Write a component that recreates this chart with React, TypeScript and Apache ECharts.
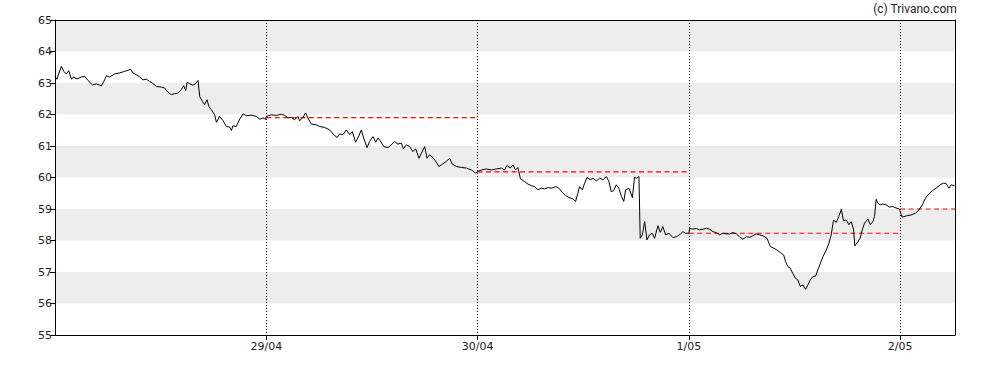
import React, { useEffect, useRef } from "react";
import * as echarts from "echarts";

// x = trading days since the start of 28/04 session, y = price
const day1: [number, number][] = [
  [0.000,63.21],[0.009,63.12],[0.030,63.53],[0.041,63.37],[0.054,63.29],[0.065,63.39],[0.078,63.12],[0.088,63.19],[0.104,63.13],[0.125,63.19],[0.141,63.21],[0.156,63.08],[0.177,62.94],[0.196,62.97],[0.220,62.91],[0.235,63.10],[0.243,63.23],[0.259,63.19],[0.283,63.29],[0.306,63.32],[0.330,63.37],[0.345,63.40],[0.357,63.44],[0.369,63.32],[0.385,63.26],[0.401,63.19],[0.416,63.10],[0.433,63.12],[0.448,63.05],[0.464,62.98],[0.480,62.89],[0.504,62.87],[0.519,62.84],[0.535,62.70],[0.551,62.63],[0.566,62.66],[0.582,62.68],[0.598,62.79],[0.609,62.91],[0.619,62.76],[0.625,63.02],[0.637,62.98],[0.653,62.93],[0.666,62.98],[0.677,63.08],[0.685,62.57],[0.698,62.41],[0.708,62.31],[0.719,62.47],[0.729,62.25],[0.740,62.15],[0.756,61.99],[0.764,61.75],[0.779,61.94],[0.795,61.81],[0.811,61.62],[0.827,61.60],[0.835,61.49],[0.842,61.64],[0.858,61.62],[0.874,61.85],[0.890,62.02],[0.906,61.96],[0.929,61.98],[0.953,61.94],[0.969,61.85],[0.984,61.89],[0.997,61.85]
];
const day2: [number, number][] = [
  [1.000,61.94],[1.024,61.99],[1.048,61.97],[1.071,62.01],[1.087,61.97],[1.103,61.89],[1.119,61.91],[1.134,61.83],[1.150,61.94],[1.158,61.80],[1.174,61.91],[1.186,62.05],[1.197,61.89],[1.213,61.70],[1.237,61.67],[1.253,61.62],[1.276,61.59],[1.300,61.51],[1.316,61.38],[1.335,61.27],[1.347,61.38],[1.363,61.36],[1.379,61.51],[1.395,61.36],[1.407,61.46],[1.423,61.12],[1.439,61.33],[1.450,61.51],[1.461,61.25],[1.477,60.95],[1.489,61.14],[1.505,61.30],[1.518,61.12],[1.529,61.25],[1.540,61.16],[1.556,60.98],[1.576,60.95],[1.592,61.04],[1.608,61.14],[1.623,61.06],[1.639,61.09],[1.650,60.91],[1.663,61.04],[1.679,60.98],[1.694,60.82],[1.707,60.91],[1.723,60.61],[1.734,60.77],[1.750,60.98],[1.761,60.61],[1.773,60.72],[1.789,60.63],[1.805,60.49],[1.817,60.35],[1.833,60.42],[1.852,60.51],[1.868,60.61],[1.881,60.42],[1.900,60.35],[1.923,60.32],[1.947,60.30],[1.971,60.24],[1.991,60.14]
];
const day3: [number, number][] = [
  [2.002,60.19],[2.018,60.24],[2.042,60.27],[2.065,60.24],[2.089,60.27],[2.113,60.30],[2.128,60.24],[2.139,60.38],[2.155,60.30],[2.168,60.40],[2.180,60.24],[2.191,60.32],[2.203,59.96],[2.223,59.87],[2.239,59.79],[2.255,59.74],[2.270,59.71],[2.286,59.61],[2.302,59.66],[2.317,59.64],[2.333,59.68],[2.349,59.66],[2.370,59.71],[2.385,59.66],[2.401,59.53],[2.417,59.43],[2.433,59.36],[2.451,59.32],[2.464,59.24],[2.475,59.50],[2.483,59.71],[2.496,59.61],[2.507,59.82],[2.518,60.00],[2.534,59.93],[2.546,59.98],[2.562,59.89],[2.578,59.98],[2.593,59.93],[2.610,60.03],[2.622,59.87],[2.633,59.55],[2.644,59.58],[2.657,59.77],[2.669,59.66],[2.681,59.40],[2.692,59.24],[2.701,59.61],[2.717,59.66],[2.733,59.36],[2.743,60.00],[2.754,59.98],[2.764,60.03],[2.770,58.07],[2.780,58.18],[2.791,58.60],[2.802,58.02],[2.814,58.18],[2.827,58.23],[2.838,58.07],[2.854,58.47],[2.865,58.26],[2.877,58.44],[2.890,58.18],[2.906,58.23],[2.925,58.09],[2.941,58.12],[2.960,58.20],[2.972,58.28],[2.985,58.23]
];
const day4: [number, number][] = [
  [3.000,58.23],[3.004,58.39],[3.019,58.36],[3.035,58.38],[3.051,58.34],[3.067,58.36],[3.083,58.39],[3.098,58.36],[3.114,58.28],[3.130,58.25],[3.146,58.18],[3.161,58.23],[3.177,58.21],[3.193,58.21],[3.209,58.25],[3.225,58.21],[3.240,58.12],[3.256,58.04],[3.272,58.12],[3.288,58.10],[3.303,58.15],[3.319,58.21],[3.335,58.18],[3.351,58.15],[3.370,58.07],[3.386,57.81],[3.401,57.76],[3.417,57.70],[3.433,57.62],[3.449,57.54],[3.458,57.33],[3.469,57.17],[3.480,57.12],[3.492,56.96],[3.505,56.80],[3.516,56.75],[3.528,56.54],[3.540,56.59],[3.553,56.45],[3.564,56.59],[3.575,56.75],[3.587,56.85],[3.600,56.87],[3.611,57.07],[3.635,57.49],[3.651,57.70],[3.663,57.91],[3.674,58.18],[3.685,58.65],[3.698,58.57],[3.710,58.76],[3.722,58.99],[3.732,58.63],[3.745,58.65],[3.758,58.50],[3.769,58.60],[3.780,58.34],[3.786,57.83],[3.800,57.96],[3.811,58.07],[3.821,58.34],[3.832,58.55],[3.848,58.68],[3.859,58.50],[3.871,58.60],[3.879,58.76],[3.887,59.31],[3.895,59.18],[3.906,59.13],[3.918,59.16],[3.934,59.13],[3.950,59.06],[3.966,59.08],[3.982,59.03],[3.997,59.00]
];
const day5: [number, number][] = [
  [4.010,58.74],[4.029,58.78],[4.052,58.81],[4.073,58.87],[4.089,58.97],[4.105,59.13],[4.120,59.34],[4.136,59.48],[4.155,59.59],[4.170,59.66],[4.190,59.77],[4.206,59.82],[4.219,59.80],[4.231,59.66],[4.242,59.77],[4.258,59.73]
];

const dayLabels = ["28/04", "29/04", "30/04", "1/05", "2/05"];
const prevCloseStart = [1, 2, 3, 4];
const prevCloseEnd = [2, 3, 4, 4.26];
const prevCloseValue = [61.9, 60.18, 58.23, 59.0];

const X_MAX = 4.26;

export default function App() {
  const ref = useRef<HTMLDivElement>(null);
  useEffect(() => {
    if (!ref.current) return;
    const chart = echarts.init(ref.current, null, { renderer: "svg" });
    const price = [...day1, ...day2, ...day3, ...day4, ...day5];
    const closeSeries = prevCloseValue.map((v, i) => ({
      type: "line",
      data: [[prevCloseStart[i], v], [prevCloseEnd[i], v]],
      showSymbol: false,
      silent: true,
      lineStyle: { color: "#ff0000", width: 1.2, type: [5, 3.5] },
      z: 3,
    }));
    const axisFont = { fontFamily: "DejaVu Sans", fontSize: 11, color: "#222" };
    chart.setOption({
      animation: false,
      backgroundColor: "#fff",
      grid: { left: 55, top: 20, right: 33, bottom: 35, containLabel: false },
      graphic: [
        {
          type: "text",
          right: 31,
          top: 3,
          style: { text: "(c) Trivano.com", font: "12px Roboto", fill: "#222" },
        },
      ],
      xAxis: [
        {
          type: "value",
          min: 0,
          max: X_MAX,
          interval: 1,
          axisLine: { show: true, lineStyle: { color: "#000", width: 1 } },
          axisTick: { show: true, length: 5, lineStyle: { color: "#000" }, customValues: [1, 2, 3, 4] },
          axisLabel: {
            ...axisFont,
            margin: 6,
            customValues: [1, 2, 3, 4],
            formatter: (v: number) => dayLabels[Math.round(v)] ?? "",
          },
          splitLine: { show: true, lineStyle: { color: "#000", width: 1, type: [1, 2] } },
        },
        {
          type: "value",
          position: "top",
          min: 0,
          max: X_MAX,
          axisLine: { show: true, onZero: false, lineStyle: { color: "#000", width: 1 } },
          axisTick: { show: false },
          axisLabel: { show: false },
          splitLine: { show: false },
        },
      ],
      yAxis: [
        {
          type: "value",
          min: 55,
          max: 65,
          interval: 1,
          axisLine: { show: true, lineStyle: { color: "#000", width: 1 } },
          axisTick: { show: true, length: 5, lineStyle: { color: "#000" } },
          axisLabel: { ...axisFont, margin: 3 },
          splitLine: { show: false },
          splitArea: { show: true, areaStyle: { color: ["#ffffff", "#ededed"] } },
        },
        {
          type: "value",
          position: "right",
          min: 55,
          max: 65,
          axisLine: { show: true, onZero: false, lineStyle: { color: "#000", width: 1 } },
          axisTick: { show: false },
          axisLabel: { show: false },
          splitLine: { show: false },
        },
      ],
      series: [
        {
          type: "line",
          data: price,
          showSymbol: false,
          silent: true,
          lineStyle: { color: "#000", width: 1 },
          z: 4,
        },
        ...closeSeries,
      ],
    });
    return () => chart.dispose();
  }, []);
  return (
    <div
      ref={ref}
      style={{ position: "fixed", left: 0, top: 0, width: 988, height: 370 }}
    />
  );
}
